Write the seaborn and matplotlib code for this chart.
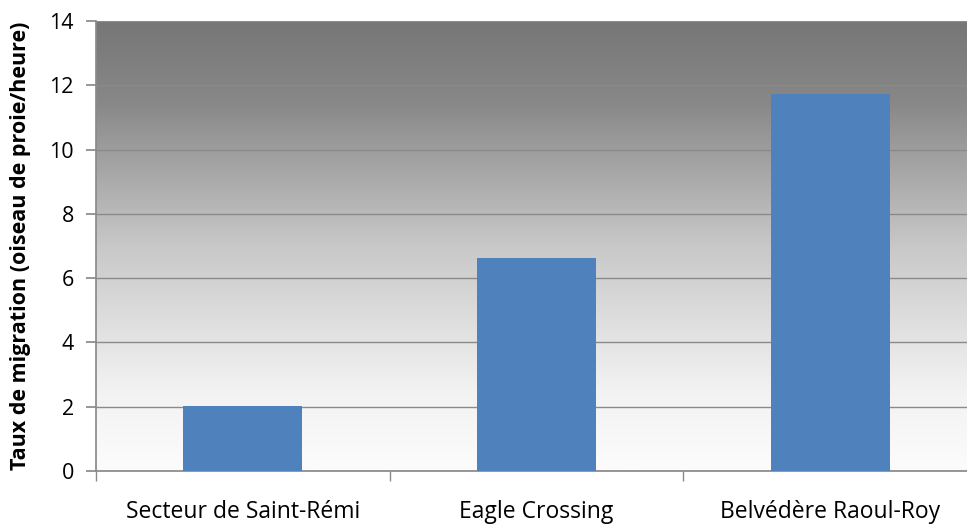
import numpy as np
import pandas as pd
import seaborn as sns
import matplotlib.pyplot as plt

# data
sites = ['Secteur de Saint-Rémi', 'Eagle Crossing', 'Belvédère Raoul-Roy']
taux = [2.03, 6.63, 11.73]

df = pd.DataFrame({'site': sites, 'taux': taux})

sns.set_theme(style='white')
plt.rcParams['font.family'] = ['Open Sans', 'DejaVu Sans']

fig = plt.figure(figsize=(9.67, 5.25), dpi=100)
ax = fig.add_axes([96 / 967, 54 / 525, 871 / 967, 450 / 525])

# grey-to-white vertical gradient background (top row first)
stops = [0.0, 0.18, 0.5, 0.82, 1.0]
grey = [118, 136, 200, 242, 252]
t = np.linspace(0, 1, 256)
g = np.interp(t, stops, grey) / 255.0
img = np.repeat(g[:, None], 3, axis=1)[:, None, :]
ax.imshow(img, extent=[0, 1, 0, 1], transform=ax.transAxes, aspect='auto',
          zorder=0, interpolation='bilinear')

sns.barplot(data=df, x='site', y='taux', color='#4f81bd', saturation=1,
            width=0.405, ax=ax, zorder=3, edgecolor='none', linewidth=0)

ax.set_ylim(0, 14)
ax.set_yticks(range(0, 15, 2))
ax.set_xlim(-0.5, 2.466)
ax.grid(axis='y', color='#8a8a8a', linewidth=1, zorder=1)
ax.grid(axis='x', visible=False)

for s in ['top', 'right']:
    ax.spines[s].set_visible(False)
ax.spines['left'].set_color('#8a8a8a')
ax.spines['bottom'].set_color('#8a8a8a')

# category boundary ticks on x, outside ticks on y
ax.set_xticks([-0.5, 0.5, 1.5], minor=True)
ax.tick_params(axis='x', which='major', length=0, labelsize=16.5, pad=21, labelcolor='black')
ax.tick_params(axis='x', which='minor', bottom=True, length=7, color='#8a8a8a', width=1)
ax.tick_params(axis='y', left=True, length=7, color='#8a8a8a', labelsize=15.5, pad=9,
               labelcolor='black')

ax.set_xlabel('')
ax.set_ylabel('Taux de migration (oiseau de proie/heure)', fontsize=15.5,
              fontweight='bold', color='black')
ax.yaxis.set_label_coords(-0.075, 0.5)

fig.savefig('out.png', dpi=100)
